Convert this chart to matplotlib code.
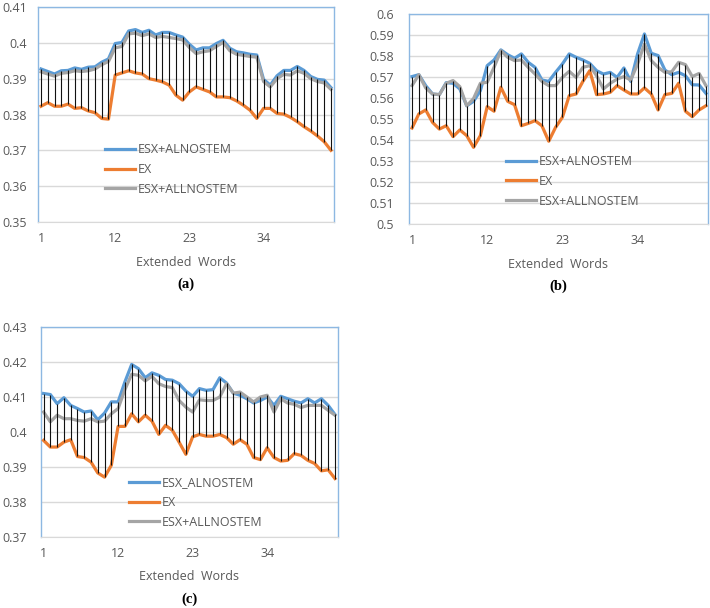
import numpy as np
import matplotlib
matplotlib.use("Agg")
from matplotlib import pyplot as plt

plt.rcParams['font.family'] = ['Open Sans', 'DejaVu Sans']

W, H = 710, 608

words = np.arange(1, 45)
xticks = [1, 12, 23, 34]

# (a)
a_alnostem = [0.3927, 0.3920, 0.3913, 0.3922, 0.3923, 0.3930, 0.3926, 0.3932, 0.3933, 0.3946,
              0.3955, 0.3998, 0.4001, 0.4033, 0.4037, 0.4029, 0.4035, 0.4022, 0.4029, 0.4029,
              0.4022, 0.4016, 0.3996, 0.3980, 0.3986, 0.3986, 0.3998, 0.4007, 0.3985, 0.3975,
              0.3972, 0.3968, 0.3966, 0.3898, 0.3882, 0.3908, 0.3923, 0.3923, 0.3934, 0.3923,
              0.3906, 0.3898, 0.3896, 0.3875]
a_ex = [0.3823, 0.3833, 0.3823, 0.3823, 0.3829, 0.3817, 0.3819, 0.3810, 0.3805, 0.3789,
        0.3787, 0.3910, 0.3916, 0.3922, 0.3916, 0.3913, 0.3900, 0.3896, 0.3891, 0.3882,
        0.3854, 0.3840, 0.3863, 0.3877, 0.3870, 0.3863, 0.3849, 0.3849, 0.3847, 0.3838,
        0.3826, 0.3812, 0.3789, 0.3817, 0.3817, 0.3803, 0.3801, 0.3792, 0.3780, 0.3766,
        0.3754, 0.3740, 0.3724, 0.3700]
a_allnostem = [0.3919, 0.3913, 0.3907, 0.3915, 0.3917, 0.3922, 0.3920, 0.3922, 0.3927, 0.3939,
               0.3948, 0.3986, 0.3990, 0.4025, 0.4027, 0.4020, 0.4025, 0.4015, 0.4018, 0.4015,
               0.4012, 0.4008, 0.3987, 0.3970, 0.3975, 0.3978, 0.3990, 0.4001, 0.3978, 0.3968,
               0.3965, 0.3962, 0.3960, 0.3892, 0.3877, 0.3900, 0.3912, 0.3910, 0.3922, 0.3915,
               0.3900, 0.3892, 0.3888, 0.3870]

# (b)
b_alnostem = [0.5702, 0.5711, 0.5659, 0.5619, 0.5616, 0.5673, 0.5670, 0.5643, 0.5563, 0.5584,
              0.5635, 0.5754, 0.5781, 0.5829, 0.5806, 0.5789, 0.5810, 0.5770, 0.5746, 0.5686,
              0.5679, 0.5722, 0.5762, 0.5810, 0.5794, 0.5781, 0.5765, 0.5730, 0.5714, 0.5722,
              0.5698, 0.5743, 0.5679, 0.5810, 0.5905, 0.5813, 0.5802, 0.5733, 0.5711, 0.5722,
              0.5706, 0.5663, 0.5662, 0.5622]
b_ex = [0.5457, 0.5524, 0.5543, 0.5484, 0.5452, 0.5468, 0.5416, 0.5448, 0.5421, 0.5365,
        0.5421, 0.5559, 0.5537, 0.5651, 0.5584, 0.5568, 0.5468, 0.5479, 0.5492, 0.5468,
        0.5394, 0.5460, 0.5508, 0.5611, 0.5619, 0.5679, 0.5730, 0.5616, 0.5619, 0.5627,
        0.5659, 0.5638, 0.5619, 0.5619, 0.5648, 0.5619, 0.5543, 0.5616, 0.5622, 0.5670,
        0.5537, 0.5511, 0.5543, 0.5563]
b_allnostem = [0.5659, 0.5711, 0.5648, 0.5619, 0.5616, 0.5670, 0.5683, 0.5654, 0.5563, 0.5597,
               0.5670, 0.5675, 0.5746, 0.5825, 0.5794, 0.5778, 0.5781, 0.5746, 0.5714, 0.5679,
               0.5659, 0.5659, 0.5698, 0.5727, 0.5698, 0.5746, 0.5754, 0.5706, 0.5643, 0.5670,
               0.5690, 0.5702, 0.5686, 0.5762, 0.5857, 0.5778, 0.5746, 0.5722, 0.5725, 0.5770,
               0.5759, 0.5702, 0.5717, 0.5659]

# (c)
c_alnostem = [0.4110, 0.4107, 0.4081, 0.4098, 0.4076, 0.4067, 0.4057, 0.4060, 0.4035, 0.4054,
              0.4086, 0.4086, 0.4143, 0.4193, 0.4181, 0.4155, 0.4169, 0.4162, 0.4150, 0.4148,
              0.4138, 0.4117, 0.4102, 0.4124, 0.4119, 0.4121, 0.4155, 0.4140, 0.4111, 0.4105,
              0.4095, 0.4083, 0.4090, 0.4100, 0.4076, 0.4102, 0.4095, 0.4088, 0.4083, 0.4095,
              0.4083, 0.4095, 0.4076, 0.4050]
c_ex = [0.3976, 0.3957, 0.3957, 0.3971, 0.3978, 0.3930, 0.3927, 0.3914, 0.3883, 0.3871,
        0.3905, 0.4016, 0.4016, 0.4052, 0.4029, 0.4048, 0.4031, 0.3993, 0.4019, 0.4005,
        0.3971, 0.3936, 0.3986, 0.3993, 0.3988, 0.3988, 0.3993, 0.3984, 0.3965, 0.3978,
        0.3965, 0.3927, 0.3921, 0.3955, 0.3927, 0.3917, 0.3919, 0.3938, 0.3933, 0.3919,
        0.3910, 0.3889, 0.3892, 0.3867]
c_allnostem = [0.4057, 0.4029, 0.4048, 0.4038, 0.4038, 0.4033, 0.4031, 0.4038, 0.4029, 0.4031,
               0.4052, 0.4067, 0.4121, 0.4165, 0.4162, 0.4146, 0.4159, 0.4138, 0.4130, 0.4127,
               0.4090, 0.4071, 0.4057, 0.4092, 0.4090, 0.4090, 0.4100, 0.4138, 0.4111, 0.4114,
               0.4100, 0.4086, 0.4100, 0.4105, 0.4057, 0.4095, 0.4083, 0.4079, 0.4070, 0.4076,
               0.4076, 0.4076, 0.4062, 0.4048]

BLUE, ORANGE, GRAY = "#5B9BD5", "#ED7D31", "#A5A5A5"
TXT = "#595959"
FRAME = "#8DB8E2"


def rect(x0, y0, x1, y1):
    return [x0 / W, 1 - y1 / H, (x1 - x0) / W, (y1 - y0) / H]


def panel(box, xlim, yticks, series, names, leg_xy, tag, ypad):
    ax = fig.add_axes(rect(*box))
    s1, s2, s3 = series
    ax.plot(words, s1, color=BLUE, lw=2.3, label=names[0], zorder=3, solid_joinstyle='round')
    ax.plot(words, s2, color=ORANGE, lw=2.3, label=names[1], zorder=3, solid_joinstyle='round')
    ax.plot(words, s3, color=GRAY, lw=2.3, label=names[2], zorder=3, solid_joinstyle='round')
    stack = np.vstack([s1, s2, s3])
    ax.vlines(words, stack.min(axis=0), stack.max(axis=0), color="#111111", lw=0.8, zorder=4)
    ax.set_xlim(*xlim)
    ax.set_ylim(yticks[0], yticks[-1])
    ax.set_yticks(yticks)
    ax.set_yticklabels(['{:g}'.format(round(t, 2)) for t in yticks])
    ax.set_xticks(xticks)
    ax.yaxis.grid(True, color="#D9D9D9", lw=1)
    ax.set_axisbelow(True)
    ax.tick_params(axis='y', length=0, pad=ypad, labelsize=9, labelcolor=TXT)
    ax.tick_params(axis='x', length=0, pad=7, labelsize=9, labelcolor=TXT)
    for side in ['left', 'top', 'right']:
        ax.spines[side].set_color(FRAME)
        ax.spines[side].set_linewidth(1)
    ax.spines['bottom'].set_color("#D9D9D9")
    ax.legend(loc='upper left', bbox_to_anchor=(leg_xy[0] / W, 1 - leg_xy[1] / H),
              bbox_transform=fig.transFigure, frameon=False, fontsize=9,
              handlelength=2.4, handletextpad=0.25, labelspacing=0.55,
              borderpad=0, borderaxespad=0, labelcolor=TXT)
    cx = (box[0] + box[2]) / 2
    fig.text(cx / W, 1 - (box[3] + 40) / H, "Extended  Words", ha='center', va='center',
             fontsize=9, color=TXT)
    fig.text(cx / W, 1 - (box[3] + 62) / H, tag, ha='center', va='center',
             fontsize=10.5, fontweight='bold', family='Liberation Serif')
    return ax


fig = plt.figure(figsize=(W / 100, H / 100), dpi=100)

panel((38, 7, 334, 222), (0.55, 44.45), np.arange(0.35, 0.4101, 0.01),
      (a_alnostem, a_ex, a_allnostem), ["ESX+ALNOSTEM", "EX", "ESX+ALLNOSTEM"],
      (105, 143), "(a)", 8)
panel((409, 14, 708, 224), (0.56, 44.3), np.arange(0.5, 0.6001, 0.01),
      (b_alnostem, b_ex, b_allnostem), ["ESX+ALNOSTEM", "EX", "ESX+ALLNOSTEM"],
      (506, 155), "(b)", 11)
panel((41, 327, 338, 537), (0.62, 44.45), np.arange(0.37, 0.4301, 0.01),
      (c_alnostem, c_ex, c_allnostem), ["ESX_ALNOSTEM", "EX", "ESX+ALLNOSTEM"],
      (129, 476), "(c)", 10)

plt.savefig("out.png", dpi=100)
